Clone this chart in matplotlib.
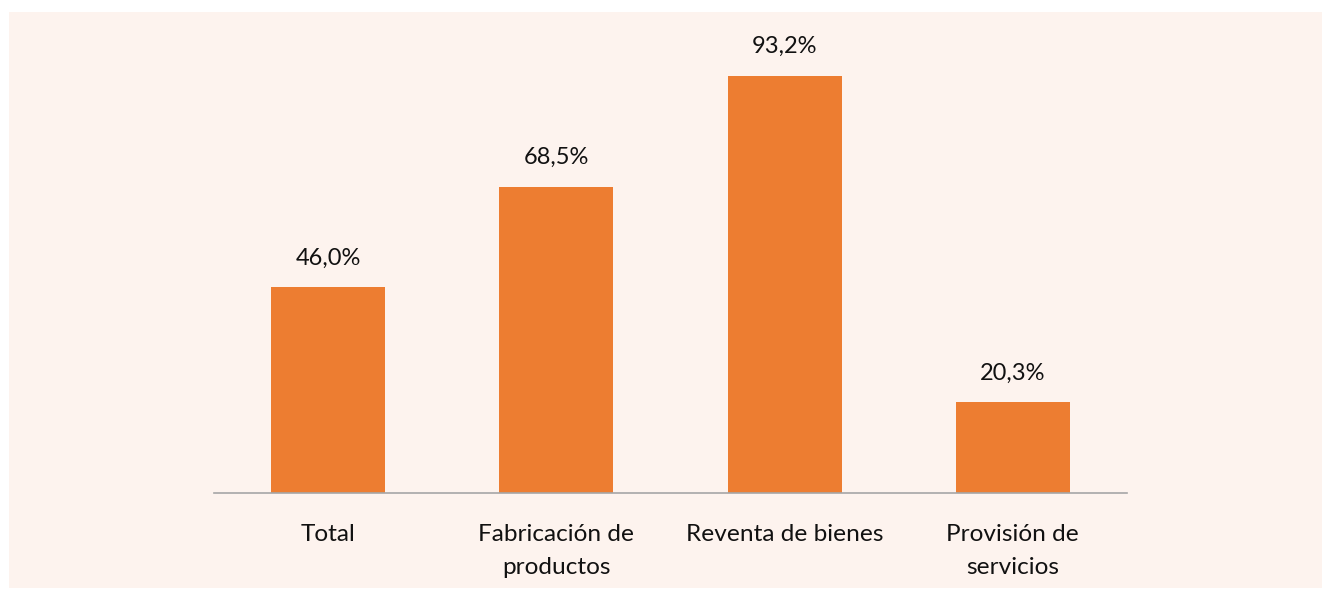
import matplotlib.pyplot as plt
from matplotlib.patches import Rectangle

categorias = ['Total', 'Fabricación de\nproductos', 'Reventa de bienes', 'Provisión de\nservicios']
valores = [46.0, 68.5, 93.2, 20.3]
etiquetas = ['46,0%', '68,5%', '93,2%', '20,3%']

plt.rcParams['font.family'] = ['Lato', 'DejaVu Sans']

W, H = 1322, 590
fig = plt.figure(figsize=(W / 100, H / 100), dpi=100, facecolor='white')
# fondo crema del recuadro
fondo = Rectangle((9 / W, 0.003), 1 - 9 / W, 1 - 12 / H - 0.003,
                  transform=fig.transFigure, facecolor='#fdf3ee',
                  edgecolor='none', zorder=-10)
fig.add_artist(fondo)

ax = fig.add_axes([214 / W, 1 - 493 / H, 913 / W, 447.4 / H])
ax.set_facecolor('none')
ax.set_zorder(1)

x = range(len(categorias))
ax.bar(x, valores, width=0.5, color='#ed7d31', zorder=2)
for i, v in enumerate(valores):
    ax.text(i, v + 4.2, etiquetas[i], ha='center', va='bottom', fontsize=17, color='#111111')

ax.set_xlim(-0.5, 3.5)
ax.set_ylim(0, 100)
ax.set_xticks(list(x))
ax.set_xticklabels(categorias, fontsize=17.6, color='#111111', linespacing=1.75)
ax.tick_params(axis='x', length=0, pad=22)
ax.set_yticks([])
for s in ['top', 'right', 'left']:
    ax.spines[s].set_visible(False)
ax.spines['bottom'].set_color('#a6a6a6')
ax.spines['bottom'].set_linewidth(1.2)

plt.savefig('out.png', dpi=100, facecolor=fig.get_facecolor())
